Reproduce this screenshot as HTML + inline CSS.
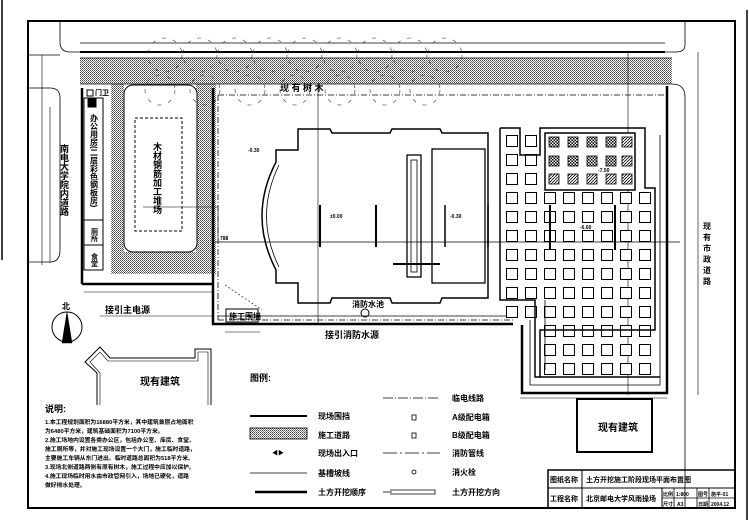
<!DOCTYPE html>
<html><head><meta charset="utf-8"><style>
html,body{margin:0;padding:0;background:#fff;}
svg{display:block;}
text{font-family:"Liberation Sans","Noto Sans CJK SC",sans-serif;font-weight:bold;fill:#000;}
.v{writing-mode:tb;glyph-orientation-vertical:0;}
</style></head><body>
<svg width="749" height="530" viewBox="0 0 749 530" xmlns="http://www.w3.org/2000/svg">
<defs>
<pattern id="dots" width="2" height="2" patternUnits="userSpaceOnUse"><rect width="2" height="2" fill="#fff"/><rect width="1" height="1" fill="#444"/><rect x="1" y="1" width="1" height="1" fill="#777"/></pattern>
<pattern id="grid" x="506" y="192" width="19" height="19" patternUnits="userSpaceOnUse"><rect x="0.5" y="0.5" width="11" height="11" fill="#fff" stroke="#000" stroke-width="1"/></pattern>
<pattern id="hat" width="3" height="3" patternUnits="userSpaceOnUse"><rect width="3" height="3" fill="#fff"/><rect width="1.5" height="1.5" fill="#000"/><rect x="1.5" y="1.5" width="1.5" height="1.5" fill="#000"/></pattern>
<pattern id="diag" width="3" height="3" patternUnits="userSpaceOnUse"><rect width="3" height="3" fill="#fff"/><path d="M0 3L3 0" stroke="#000" stroke-width="0.8"/></pattern>
</defs>
<g fill="none" stroke="#000">
<line x1="2" y1="0" x2="2" y2="260" stroke-width="1.5"/>
<line x1="747" y1="10" x2="747" y2="520" stroke-width="1.5"/>
<rect x="28" y="21" width="707" height="487" stroke-width="2"/>
<rect x="80" y="58" width="592" height="26" fill="url(#dots)" stroke="none"/>
<rect x="111" y="84" width="13" height="190" fill="url(#dots)" stroke="none"/>
<rect x="196" y="84" width="20" height="190" fill="url(#dots)" stroke="none"/>
<rect x="111" y="252" width="105" height="22" fill="url(#dots)" stroke="none"/>
<rect x="124" y="85" width="73" height="167" rx="9" fill="#fff" stroke-width="1"/>
<rect x="135" y="118" width="47" height="113" stroke-dasharray="3,2" stroke-width="1"/>
<line x1="80" y1="43" x2="665" y2="43" stroke-width="0.8"/>
<line x1="80" y1="52" x2="665" y2="52" stroke-width="2"/>
<line x1="80" y1="58" x2="672" y2="58" stroke-width="0.8"/>
<line x1="80" y1="84" x2="672" y2="84" stroke-width="0.8"/>
<line x1="218" y1="95" x2="665" y2="95" stroke-dasharray="6,2,1,2" stroke-width="0.8"/>
<g stroke-width="0.6" stroke-dasharray="4,7" stroke="#333">
<circle cx="165" cy="55" r="17"/><circle cx="200" cy="55" r="17"/><circle cx="235" cy="55" r="17"/><circle cx="270" cy="55" r="17"/><circle cx="305" cy="55" r="17"/><circle cx="340" cy="55" r="17"/><circle cx="375" cy="55" r="17"/><circle cx="410" cy="55" r="17"/><circle cx="445" cy="55" r="17"/>
<circle cx="160" cy="90" r="15"/><circle cx="205" cy="90" r="15"/><circle cx="250" cy="90" r="15"/><circle cx="295" cy="90" r="15"/><circle cx="340" cy="90" r="15"/><circle cx="385" cy="90" r="15"/><circle cx="425" cy="90" r="15"/>
</g>
<path d="M60 21V42Q60 52 70 52H80" stroke-width="0.8"/>
<line x1="28" y1="55" x2="60" y2="55" stroke-width="0.8"/>
<path d="M28 88H50Q60 88 60 98V250Q60 262 50 262H28" stroke-width="0.8"/>
<line x1="42" y1="55" x2="42" y2="265" stroke-width="0.6"/>
<line x1="50" y1="107" x2="50" y2="263" stroke-width="0.6"/>
<line x1="82" y1="88" x2="82" y2="284" stroke-width="2.5"/>
<line x1="82" y1="284" x2="213" y2="284" stroke-width="2.5"/>
<rect x="84" y="98" width="19" height="122" stroke-width="1"/>
<rect x="84" y="220" width="19" height="25" stroke-width="1"/>
<rect x="84" y="245" width="19" height="25" stroke-width="1"/>
<rect x="87" y="90" width="6" height="6" stroke-width="1"/>
<rect x="88" y="99" width="8" height="8" fill="#000"/>
<line x1="84" y1="292" x2="213" y2="292" stroke-width="0.6"/>
<path d="M213 88V324H513" stroke-width="2.5"/>
<path d="M218 95V320" stroke-dasharray="6,2,1,2" stroke-width="0.8"/>
<path d="M522 325V393H667V86" stroke-width="2.5"/>
<path d="M530 320V385H660V135" stroke-width="0.8"/>
<line x1="218" y1="320" x2="513" y2="320" stroke-dasharray="6,2,1,2" stroke-width="0.8"/>
<line x1="218" y1="316" x2="513" y2="316" stroke-width="0.8"/>
<path d="M665 52H676Q685 52 685 45V21" stroke-width="0.8"/>
<path d="M672 84Q685 84 685 97V508" stroke-width="0.8"/>
<line x1="698" y1="52" x2="698" y2="395" stroke-width="0.6"/>
<line x1="318" y1="84" x2="318" y2="325" stroke-width="0.6"/>
<line x1="628" y1="52" x2="628" y2="395" stroke-width="0.6"/>
<line x1="215" y1="242" x2="680" y2="242" stroke-width="0.8"/>
<line x1="143" y1="207" x2="218" y2="207" stroke-width="0.6"/>
<line x1="218" y1="207" x2="218" y2="242" stroke-width="0.6"/>
<line x1="225" y1="285" x2="262" y2="310" stroke-dasharray="2,2" stroke-width="0.6"/>
<path d="M298 129H330L332 133H390L392 129H440L442 133H488V298H442L440 303H392L390 298H332L330 303H298V283H276V270Q248 216 276 162V150H298Z" stroke-width="1.5"/>
<path d="M279 165Q254 216 279 267" stroke-width="0.8"/>
<rect x="432" y="149" width="53" height="134" stroke-width="1.3"/>
<rect x="407" y="155" width="14" height="122" stroke-width="1.3"/>
<rect x="411" y="160" width="6" height="112" stroke-width="0.8"/>
<line x1="320" y1="205" x2="320" y2="247" stroke-width="2"/>
<line x1="376" y1="205" x2="376" y2="247" stroke-width="2"/>
<line x1="445" y1="205" x2="445" y2="247" stroke-width="1.5"/>
<line x1="488" y1="205" x2="488" y2="247" stroke-width="1.5"/>
<line x1="393" y1="264" x2="440" y2="264" stroke-width="2"/>
<rect x="505" y="188" width="150" height="132" fill="url(#grid)" stroke="none"/>
<rect x="540" y="300" width="115" height="75" fill="url(#grid)" stroke="none"/>
<rect x="505" y="134" width="35" height="58" fill="url(#grid)" stroke="none"/>
<path d="M500 128H520V155H540V128H645V188H655V330H540V377H660" stroke-width="1.5"/>
<path d="M500 128V300H535V377H540" stroke-width="1.5"/>
<rect x="545" y="133" width="90" height="57" stroke-width="1.5" fill="#fff"/>
<g stroke-width="0.8">
<rect x="549" y="137" width="10" height="10" fill="url(#hat)"/><rect x="568" y="137" width="10" height="10" fill="url(#hat)"/><rect x="587" y="137" width="10" height="10" fill="url(#hat)"/><rect x="606" y="137" width="10" height="10" fill="url(#hat)"/><rect x="622" y="137" width="10" height="10" fill="url(#diag)"/>
<rect x="549" y="156" width="10" height="10" fill="url(#hat)"/><rect x="568" y="156" width="10" height="10" fill="url(#hat)"/><rect x="587" y="156" width="10" height="10" fill="url(#hat)"/><rect x="606" y="156" width="10" height="10" fill="url(#hat)"/><rect x="622" y="156" width="10" height="10" fill="url(#diag)"/>
<rect x="549" y="174" width="10" height="10" fill="url(#diag)"/><rect x="568" y="174" width="10" height="10" fill="url(#diag)"/><rect x="587" y="174" width="10" height="10" fill="url(#diag)"/><rect x="606" y="174" width="10" height="10" fill="url(#diag)"/><rect x="622" y="174" width="10" height="10" fill="url(#diag)"/>
</g>
<line x1="545" y1="300" x2="545" y2="370" stroke-width="0.8"/>
<line x1="550" y1="205" x2="550" y2="250" stroke-width="2"/>
<line x1="615" y1="205" x2="615" y2="250" stroke-width="2"/>
<rect x="226" y="309" width="32" height="13" stroke-width="1"/>
<line x1="225" y1="332" x2="260" y2="332" stroke-width="0.6"/>
<circle cx="365" cy="313" r="4" stroke-width="1"/>
<line x1="100" y1="316" x2="213" y2="316" stroke-width="0.6"/>
<path d="M97 405V373L85 362L100 347L110 358H195V349H211V405" stroke-width="1"/>
<path d="M100 405V373L90 362L100 352L108 361H198V352H208V405" stroke-width="0.6"/>
<rect x="577" y="399" width="75" height="53" stroke-width="2"/>
<line x1="520" y1="398" x2="667" y2="398" stroke-width="0.6"/>
<circle cx="67" cy="327" r="15" stroke-width="1"/>
<path d="M67 312L62 343H72Z" fill="#000" stroke-width="0.5"/>
<line x1="250" y1="416" x2="307" y2="416" stroke-width="2"/>
<rect x="250" y="428" width="57" height="11" fill="url(#dots)" stroke-width="0.8"/>
<line x1="250" y1="473" x2="307" y2="473" stroke-width="0.8"/>
<line x1="255" y1="492" x2="307" y2="492" stroke-width="2.5"/>
<line x1="383" y1="398" x2="440" y2="398" stroke-dasharray="10,2,1,2" stroke-width="0.8"/>
<rect x="412" y="415" width="4" height="5" stroke-width="0.8"/>
<rect x="412" y="433" width="4" height="5" stroke-width="0.8"/>
<line x1="383" y1="453" x2="440" y2="453" stroke-dasharray="14,3,2,3" stroke-width="0.8"/>
<circle cx="414" cy="472" r="2" stroke-width="0.8"/>
<path d="M390 490H435V494H390" stroke-width="0.8"/>
<line x1="383" y1="492" x2="392" y2="492" stroke-width="0.8"/>
<rect x="548" y="470" width="187" height="38" stroke-width="1.5"/>
<line x1="548" y1="488" x2="735" y2="488" stroke-width="1"/>
<line x1="582" y1="470" x2="582" y2="508" stroke-width="1"/>
<line x1="662" y1="488" x2="662" y2="508" stroke-width="1"/>
<line x1="662" y1="498" x2="735" y2="498" stroke-width="0.8"/>
<line x1="674" y1="488" x2="674" y2="508" stroke-width="0.8"/>
<line x1="697" y1="488" x2="697" y2="508" stroke-width="0.8"/>
<line x1="709" y1="488" x2="709" y2="508" stroke-width="0.8"/>
</g>
<text x="280" y="91" font-size="9">现 有 树 木</text>
<text class="v" x="94" y="114" font-size="8">办公用房(二层彩色钢板房)</text>
<text class="v" x="157" y="142" font-size="9">木材钢筋加工堆场</text>
<text class="v" x="64" y="144" font-size="9">南电大学院内道路</text>
<text class="v" x="94" y="228" font-size="7">厕所</text>
<text class="v" x="94" y="253" font-size="7">食堂</text>
<text x="95" y="95" font-size="7">门卫</text>
<text class="v" x="707" y="222" font-size="8" letter-spacing="3">现有市政道路</text>
<text x="105" y="313" font-size="9">接引主电源</text>
<text x="325" y="338" font-size="9">接引消防水源</text>
<text x="229" y="319" font-size="8">施工围墙</text>
<text x="352" y="307" font-size="8">消防水池</text>
<text x="62" y="309" font-size="8">北</text>
<text x="140" y="385" font-size="10">现有建筑</text>
<text x="598" y="431" font-size="10">现有建筑</text>
<text x="250" y="381" font-size="9">图例:</text>
<text x="45" y="412" font-size="9">说明:</text>
<g font-size="5.8" font-weight="normal">
<text x="45" y="424">1.本工程规划面积为16880平方米，其中建筑首层占地面积</text>
<text x="45" y="433">为6480平方米，建筑基础面积为7100平方米。</text>
<text x="45" y="442">2.施工场地内设置各类办公区，包括办公室、库房、食堂、</text>
<text x="45" y="451">施工厕所等，并对施工现场设置一个大门，施工临时道路，</text>
<text x="45" y="460">主要施工车辆从东门进出。临时道路总面积为518平方米。</text>
<text x="45" y="469">3.现场北侧道路两侧有原有树木，施工过程中应加以保护。</text>
<text x="45" y="478">4.施工现场临时用水由市政管网引入，场地已硬化，道路</text>
<text x="45" y="487">做好排水处理。</text>
</g>
<g font-size="8">
<text x="318" y="419">现场围挡</text>
<text x="318" y="438">施工道路</text>
<text x="318" y="456">现场出入口</text>
<text x="318" y="476">基槽坡线</text>
<text x="318" y="495">土方开挖顺序</text>
<text x="452" y="401">临电线路</text>
<text x="452" y="420">A级配电箱</text>
<text x="452" y="438">B级配电箱</text>
<text x="452" y="456">消防管线</text>
<text x="452" y="475">消火栓</text>
<text x="452" y="495">土方开挖方向</text>
</g>
<text x="272" y="455" font-size="6">◀▶</text>
<g font-size="7">
<text x="550" y="482">图纸名称</text>
<text x="586" y="482">土方开挖施工阶段现场平面布置图</text>
<text x="550" y="501">工程名称</text>
<text x="586" y="501">北京邮电大学风雨操场</text>
</g>
<g font-size="5">
<text x="663" y="496">比例</text><text x="676" y="496">1:800</text><text x="698" y="496">图号</text><text x="711" y="496">施平-01</text>
<text x="663" y="506">尺寸</text><text x="677" y="506">A3</text><text x="698" y="506">日期</text><text x="711" y="506">2004.12</text>
</g>
<g font-size="5" font-weight="normal">
<text x="330" y="218">±0.00</text><text x="450" y="218">-0.30</text><text x="248" y="152">-0.30</text>
<text x="598" y="172">-7.50</text><text x="580" y="229">-6.60</text><text x="220" y="240">788</text>
</g>
</svg>
</body></html>
